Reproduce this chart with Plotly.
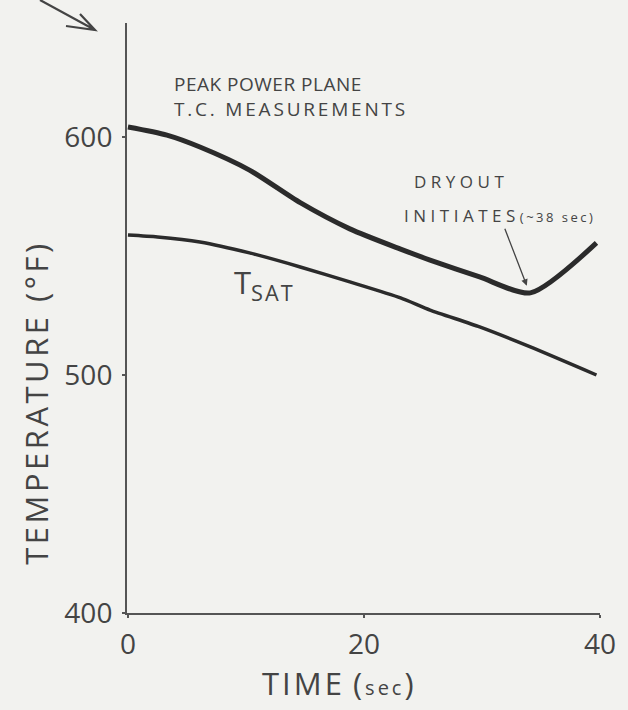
import plotly.graph_objects as go

# Peak power plane thermocouple temperature and saturation temperature vs time
time_tc = [0, 3.3, 6.1, 10.3, 14.6, 18.8, 23.1, 25.6, 29.8, 34.1, 39.7]
temp_tc = [604.2, 600.8, 595.8, 586.1, 572.4, 561.4, 552.9, 548.3, 541.2, 534.5, 555.5]

time_sat = [0, 2.5, 6.1, 10.3, 14.6, 18.8, 23.1, 25.6, 29.8, 34.1, 39.7]
temp_sat = [558.8, 558.0, 555.9, 551.3, 545.4, 539.1, 532.4, 527.3, 520.2, 511.8, 500.0]

x_ticks = [0, 20, 40]
y_ticks = [400, 500, 600]

dryout_time = 33.8
dryout_temp = 537.5

paper = "#f2f2ef"
text_color = "#444444"
font_family = "Open Sans, DejaVu Sans, sans-serif"

# plot area in pixels, used to place free text in paper coordinates
L, R, T, B = 127, 28, 23, 97
W, H = 628, 710
PW, PH = W - L - R, H - T - B


def px(x):
    return (x - L) / PW


def py(y):
    return (H - B - y) / PH


def spaced(text, gap):
    return f"<span style='letter-spacing:{gap}px'>{text}</span>"


fig = go.Figure()

fig.add_trace(go.Scatter(
    x=time_tc, y=temp_tc, mode="lines",
    line=dict(color="#2b2b2b", width=5, shape="spline", smoothing=0.7),
    showlegend=False, hoverinfo="skip",
))
fig.add_trace(go.Scatter(
    x=time_sat, y=temp_sat, mode="lines",
    line=dict(color="#2b2b2b", width=3.5, shape="spline", smoothing=0.6),
    showlegend=False, hoverinfo="skip",
))

# trailing non-breaking spaces nudge the centred axis titles along their axes
x_title = (spaced("TIME", 3) + " "
           + spaced("(<span style='font-size:20px'>sec</span>)", 3)
           + "&nbsp;" * 6)
y_title = spaced("TEMPERATURE (°F)", 3.5) + "&nbsp;" * 21

fig.update_layout(
    width=W, height=H,
    margin=dict(l=L, r=R, t=T, b=B),
    paper_bgcolor=paper, plot_bgcolor=paper,
    font=dict(family=font_family, color=text_color),
    showlegend=False,
    xaxis=dict(
        range=[-0.08, 40], tickvals=x_ticks, ticktext=[str(v) for v in x_ticks],
        showgrid=False, zeroline=False, showline=True, linecolor="#555555", linewidth=2,
        ticks="outside", ticklen=3, tickwidth=2, tickcolor="#555555",
        tickfont=dict(size=28, color=text_color), ticklabelstandoff=2,
        title=dict(text=x_title, font=dict(size=31, color=text_color), standoff=10),
    ),
    yaxis=dict(
        range=[400, 647.9], tickvals=y_ticks, ticktext=[str(v) for v in y_ticks],
        showgrid=False, zeroline=False, showline=True, linecolor="#555555", linewidth=2,
        ticks="outside", ticklen=3, tickwidth=2, tickcolor="#555555",
        tickfont=dict(size=28, color=text_color), ticklabelstandoff=4,
        title=dict(text=y_title, font=dict(size=31, color=text_color), standoff=7),
    ),
)

# Figure label text
fig.add_annotation(
    xref="paper", yref="paper", x=px(172), y=py(96),
    xanchor="left", yanchor="middle", align="left", showarrow=False,
    text=spaced("PEAK POWER PLANE", 0.5) + "<br>" + spaced("T.C. MEASUREMENTS", 2.8),
    font=dict(size=19, color=text_color),
)

# Dryout callout with arrow to the minimum of the T.C. trace
fig.add_annotation(
    xref="paper", yref="paper", x=px(412), y=py(182),
    xanchor="left", yanchor="middle", showarrow=False,
    text=spaced("DRYOUT", 4.5),
    font=dict(size=17, color=text_color),
)
fig.add_annotation(
    x=dryout_time, y=dryout_temp, xref="x", yref="y",
    ax=-27, ay=-70, axref="pixel", ayref="pixel",
    showarrow=True, arrowhead=2, arrowsize=1, arrowwidth=1.3, arrowcolor=text_color,
    text=spaced("INITIATES", 4.5)
         + spaced("<span style='font-size:13px'>(~38 sec)</span>", 2.5),
    font=dict(size=17, color=text_color),
)

# Saturation temperature label
fig.add_annotation(
    xref="paper", yref="paper", x=px(232), y=py(284),
    xanchor="left", yanchor="middle", showarrow=False,
    text="T<sub>" + spaced("SAT", 2) + "</sub>",
    font=dict(size=31, color=text_color),
)

# Pointer arrow at the top of the temperature axis
fig.add_shape(
    type="path", xref="paper", yref="paper",
    path=(f"M {px(40)},{py(0)} L {px(95)},{py(30)} "
          f"M {px(66)},{py(26)} L {px(95)},{py(30)} L {px(80)},{py(14)}"),
    line=dict(color=text_color, width=2.2),
)

fig.write_html("out.html")
